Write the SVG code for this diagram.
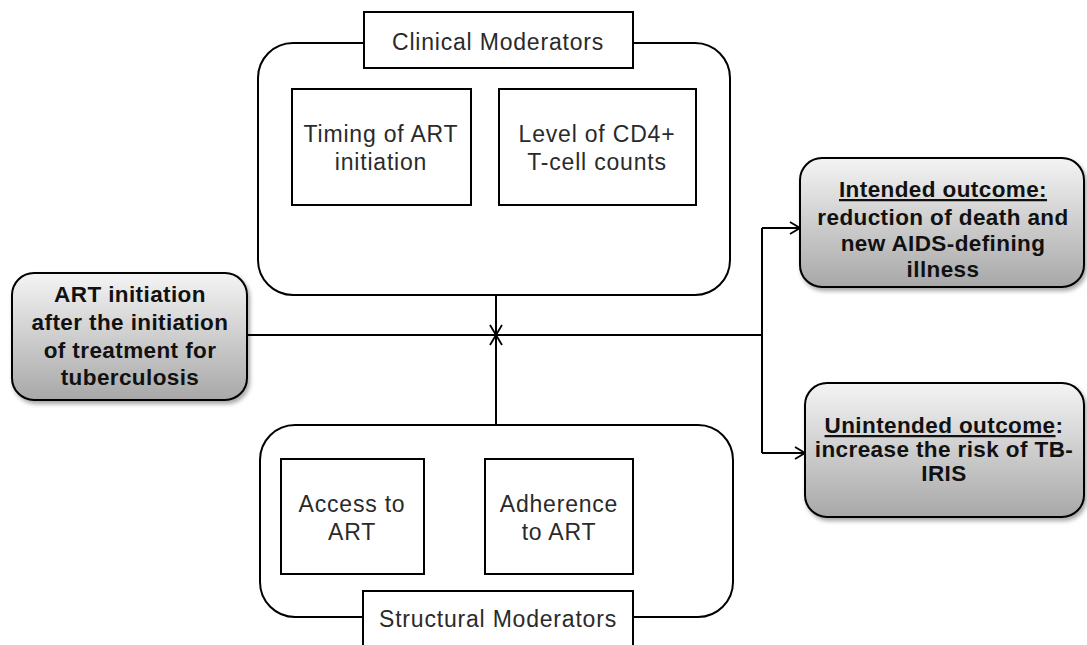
<svg xmlns="http://www.w3.org/2000/svg" width="1087" height="645" viewBox="0 0 1087 645">
<style>
.c{fill:#fff;stroke:#000;stroke-width:2}
.b{fill:#fff;stroke:#000;stroke-width:2}
.g{fill:url(#gr);stroke:#000;stroke-width:2}
.t{font-family:"Liberation Sans",Arial,sans-serif;font-size:23px;letter-spacing:0.8px;fill:#2a2a2a;text-anchor:middle}
.tb{font-family:"Liberation Sans",Arial,sans-serif;font-size:22.5px;letter-spacing:0.4px;font-weight:bold;fill:#111;text-anchor:middle}
.l{fill:none;stroke:#000;stroke-width:2}
</style>
<defs>
<linearGradient id="gr" x1="0" y1="0" x2="0" y2="1">
<stop offset="0" stop-color="#f4f4f4"/>
<stop offset="1" stop-color="#a8a8a8"/>
</linearGradient>
<filter id="sh" x="-10%" y="-10%" width="130%" height="130%">
<feDropShadow dx="2" dy="3" stdDeviation="2" flood-color="#000" flood-opacity="0.35"/>
</filter>
<marker id="ar" viewBox="0 0 12 14" refX="11" refY="7" markerWidth="12" markerHeight="14" markerUnits="userSpaceOnUse" orient="auto">
<path d="M1,1 L11,7 L1,13" fill="none" stroke="#000" stroke-width="1.8"/>
</marker>
</defs>
<rect width="1087" height="645" fill="#fff"/>
<g id="connectors">
<path class="l" d="M247,335 H762"/>
<path class="l" d="M496,295 V335" marker-end="url(#ar)"/>
<path class="l" d="M496,425 V335" marker-end="url(#ar)"/>
<path class="l" d="M762,228 V453"/>
<path class="l" d="M762,228 H800" marker-end="url(#ar)"/>
<path class="l" d="M762,453 H805" marker-end="url(#ar)"/>
</g>
<g id="clinical">
<rect class="c" x="258" y="43" width="472" height="252" rx="35"/>
<rect class="b" x="364" y="12" width="269" height="56"/>
<text class="t" x="498" y="50">Clinical Moderators</text>
</g>
<g id="timing">
<rect class="b" x="292" y="89" width="179" height="116"/>
<text class="t" x="381" y="142">Timing of ART</text>
<text class="t" x="381" y="170">initiation</text>
</g>
<g id="cd4">
<rect class="b" x="499" y="89" width="197" height="116"/>
<text class="t" x="597" y="142">Level of CD4+</text>
<text class="t" x="597" y="170">T-cell counts</text>
</g>
<g id="structural">
<rect class="c" x="260" y="425" width="473" height="192" rx="35"/>
<rect class="b" x="363" y="591" width="270" height="70"/>
<text class="t" x="498" y="627">Structural Moderators</text>
</g>
<g id="access">
<rect class="b" x="281" y="459" width="143" height="115"/>
<text class="t" x="352" y="512">Access to</text>
<text class="t" x="352" y="540">ART</text>
</g>
<g id="adherence">
<rect class="b" x="485" y="459" width="148" height="115"/>
<text class="t" x="559" y="512">Adherence</text>
<text class="t" x="559" y="540">to ART</text>
</g>
<g id="art">
<rect class="g" x="12" y="273" width="235" height="127" rx="22" filter="url(#sh)"/>
<text class="tb" x="130" y="302">ART initiation</text>
<text class="tb" x="130" y="330">after the initiation</text>
<text class="tb" x="130" y="358">of treatment for</text>
<text class="tb" x="130" y="385">tuberculosis</text>
</g>
<g id="intended">
<rect class="g" x="800" y="158" width="284" height="129" rx="22" filter="url(#sh)"/>
<text class="tb" x="943" y="197" text-decoration="underline">Intended outcome:</text>
<text class="tb" x="943" y="225">reduction of death and</text>
<text class="tb" x="943" y="251">new AIDS-defining</text>
<text class="tb" x="943" y="277">illness</text>
</g>
<g id="unintended">
<rect class="g" x="805" y="383" width="279" height="134" rx="22" filter="url(#sh)"/>
<text class="tb" x="944" y="433"><tspan text-decoration="underline">Unintended outcome</tspan>:</text>
<text class="tb" x="944" y="457">increase the risk of TB-</text>
<text class="tb" x="944" y="481">IRIS</text>
</g>
</svg>
